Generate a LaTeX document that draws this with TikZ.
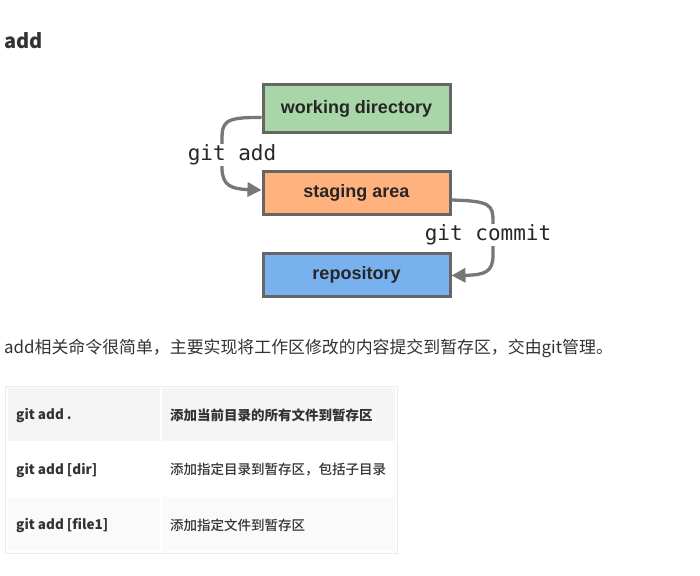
\documentclass[tikz,border=0pt]{standalone}
\usepackage{fontspec}
\setmainfont{Liberation Sans}
\newfontfamily\cjk{Noto Sans CJK SC}
\newfontfamily\cjkmed{Noto Sans CJK SC Medium}
\newfontfamily\monof{DejaVu Sans Mono}
\usetikzlibrary{arrows.meta}
\definecolor{txt}{HTML}{333333}
\definecolor{wdgreen}{HTML}{A9D6A8}
\definecolor{saorange}{HTML}{FFB27E}
\definecolor{repoblue}{HTML}{79B1EF}
\definecolor{boxline}{HTML}{666666}
\definecolor{arrowc}{HTML}{777777}
\definecolor{rowa}{HTML}{F5F5F5}
\definecolor{rowc}{HTML}{FAFAFA}
\definecolor{tline}{HTML}{EBEBEB}
\tikzset{
  gitbox/.style={draw=boxline, line width=3pt, minimum width=187pt, minimum height=47pt, inner sep=0pt,
    font=\fontsize{18}{21}\selectfont\bfseries, text=black!85},
  flow/.style={draw=arrowc, line width=3.3pt, -{Triangle[length=14pt,width=14pt]}},
  cmdlabel/.style={fill=white, inner sep=1pt, font=\monof\fontsize{21}{24}\selectfont, text=black!85},
  cell/.style={anchor=west, inner sep=0pt, text=txt},
}
\begin{document}
\begin{tikzpicture}[x=1pt,y=-1pt]
\useasboundingbox (0,0) rectangle (700,575);
\fill[white] (0,0) rectangle (700,575);
% title
\node[anchor=west, inner sep=0pt, text=txt, font=\cjk\bfseries\fontsize{20}{24}\selectfont] (title) at (4,41) {add};
% boxes
\node[gitbox, fill=wdgreen] (wd) at (356.5,108.5) {\raisebox{-1pt}{working directory}};
\node[gitbox, fill=saorange, minimum height=43pt] (sa) at (356.5,193) {\raisebox{-1pt}{staging area}};
\node[gitbox, fill=repoblue, minimum height=43pt] (repo) at (356.5,274.5) {\raisebox{-1pt}{repository}};
% connectors
\draw[flow] ([yshift=-9pt]wd.west) .. controls (224,117) and (222,122) .. (222,140) -- (222,168)
   .. controls (222,186) and (232,189) .. ([yshift=3pt]sa.west);
\draw[flow] ([yshift=-7pt]sa.east) .. controls (491,201) and (493,205) .. (493,222) -- (493,255)
   .. controls (493,272) and (485,275) .. ([yshift=-1pt]repo.east);
\node[cmdlabel] (gadd) at (232,155) {git add};
\node[cmdlabel] (gcommit) at (488,235) {git commit};
% paragraph
\node[anchor=west, inner sep=0pt, text=txt, font=\cjk\fontsize{16.9}{20}\selectfont] (para) at (4,348)
  {add相关命令很简单，主要实现将工作区修改的内容提交到暂存区，交由git管理。};
% table
\draw[tline, line width=1pt] (5.5,386.5) rectangle (397.5,553.5);
\fill[rowa] (8,388) rectangle (160,441);
\fill[rowa] (162,388) rectangle (395,441);
\fill[rowc] (8,497) rectangle (160,551);
\fill[rowc] (162,497) rectangle (395,551);
\node[cell, font=\cjk\bfseries\fontsize{13.5}{16}\selectfont] (c11) at (16,415) {git add .};
\node[cell, font=\cjk\bfseries\fontsize{13.5}{16}\selectfont] (c12) at (170,415) {添加当前目录的所有文件到暂存区};
\node[cell, font=\cjk\bfseries\fontsize{13.5}{16}\selectfont] (c21) at (16,470) {git add [dir]};
\node[cell, font=\cjkmed\fontsize{13.5}{16}\selectfont] (c22) at (170,470) {添加指定目录到暂存区，包括子目录};
\node[cell, font=\cjk\bfseries\fontsize{13.5}{16}\selectfont] (c31) at (16,525) {git add [file1]};
\node[cell, font=\cjkmed\fontsize{13.5}{16}\selectfont] (c32) at (170,525) {添加指定文件到暂存区};
\end{tikzpicture}
\end{document}
